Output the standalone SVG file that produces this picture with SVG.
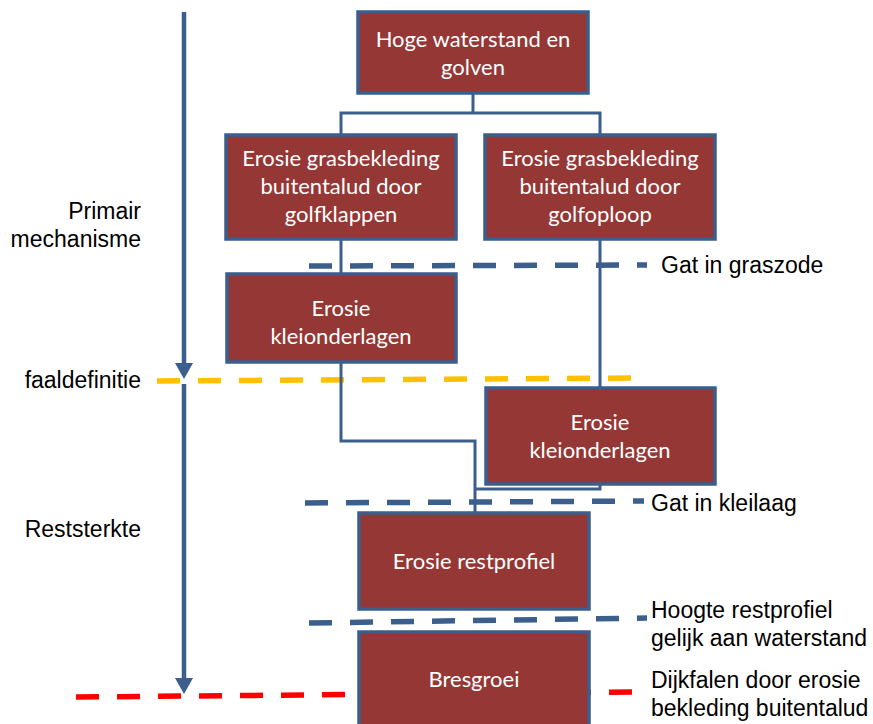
<svg xmlns="http://www.w3.org/2000/svg" width="873" height="724" viewBox="0 0 873 724">
<style>
.box{fill:#953735;stroke:#3B5E8C;stroke-width:3.5;}
.bt{fill:#ffffff;font-family:Lato,"Open Sans",sans-serif;font-size:22px;text-anchor:middle;}
.lbl{fill:#000000;font-family:"Liberation Sans",Arial,sans-serif;font-size:23px;}
.lft{text-anchor:end;}
.con{fill:none;stroke:#3B5E8C;stroke-width:3;}
.dash{fill:none;stroke-width:5.5;stroke-dasharray:23 18;}
.blue{stroke:#3B5E8C;}
.yel{stroke:#FFC000;}
.red{stroke:#FF0000;}
.axis{fill:none;stroke:#3B5E8C;stroke-width:4.5;marker-end:url(#ah);}
</style>
<defs>
<marker id="ah" markerUnits="userSpaceOnUse" viewBox="0 0 16 18" markerWidth="16" markerHeight="18" refX="2" refY="9" orient="auto">
<path d="M0,0 L16,9 L0,18 Z" fill="#3B5E8C"/>
</marker>
</defs>
<rect width="873" height="724" fill="#ffffff"/>

<g id="levels">
<path class="dash blue" d="M309,266 L647,265"/>
<path class="dash blue" d="M305,503 L644,501"/>
<path class="dash blue" d="M309,623 L647,618"/>
<path class="dash yel" d="M157,381 L637,378"/>
<path class="dash red" d="M76,697 L634,692"/>
</g>

<g id="axis">
<path class="axis" d="M184,12 L184,365"/>
<path class="axis" d="M184,384 L184,680"/>
</g>

<g id="connectors">
<path class="con" d="M473,93 V113"/>
<path class="con" d="M341,135 V113 H600 V135"/>
<path class="con" d="M341,239 V274"/>
<path class="con" d="M600,239 V388"/>
<path class="con" d="M341,362 V441 H475 V513"/>
<path class="con" d="M600,484 V489 H475"/>
</g>

<g id="n1">
<rect class="box" x="358" y="12" width="230" height="81"/>
<text class="bt" x="473" y="47">Hoge waterstand en</text>
<text class="bt" x="473" y="75">golven</text>
</g>
<g id="n2">
<rect class="box" x="226" y="135" width="230" height="104"/>
<text class="bt" x="341" y="166">Erosie grasbekleding</text>
<text class="bt" x="341" y="194">buitentalud door</text>
<text class="bt" x="341" y="222">golfklappen</text>
</g>
<g id="n3">
<rect class="box" x="485" y="135" width="230" height="104"/>
<text class="bt" x="600" y="166">Erosie grasbekleding</text>
<text class="bt" x="600" y="194">buitentalud door</text>
<text class="bt" x="600" y="222">golfoploop</text>
</g>
<g id="n4">
<rect class="box" x="227" y="274" width="229" height="88"/>
<text class="bt" x="341" y="316">Erosie</text>
<text class="bt" x="341" y="344">kleionderlagen</text>
</g>
<g id="n5">
<rect class="box" x="486" y="388" width="229" height="96"/>
<text class="bt" x="600" y="430">Erosie</text>
<text class="bt" x="600" y="458">kleionderlagen</text>
</g>
<g id="n6">
<rect class="box" x="359" y="513" width="230" height="96"/>
<text class="bt" x="474" y="569">Erosie restprofiel</text>
</g>
<g id="n7">
<rect class="box" x="359" y="632" width="230" height="110"/>
<text class="bt" x="474" y="687">Bresgroei</text>
</g>

<g id="labels">
<text class="lbl lft" x="141" y="219">Primair</text>
<text class="lbl lft" x="141" y="247">mechanisme</text>
<text class="lbl lft" x="141" y="388">faaldefinitie</text>
<text class="lbl lft" x="141" y="537">Reststerkte</text>
<text class="lbl" x="661" y="273">Gat in graszode</text>
<text class="lbl" x="651" y="511">Gat in kleilaag</text>
<text class="lbl" x="651" y="618">Hoogte restprofiel</text>
<text class="lbl" x="651" y="646">gelijk aan waterstand</text>
<text class="lbl" x="651" y="688">Dijkfalen door erosie</text>
<text class="lbl" x="651" y="716">bekleding buitentalud</text>
</g>
</svg>
